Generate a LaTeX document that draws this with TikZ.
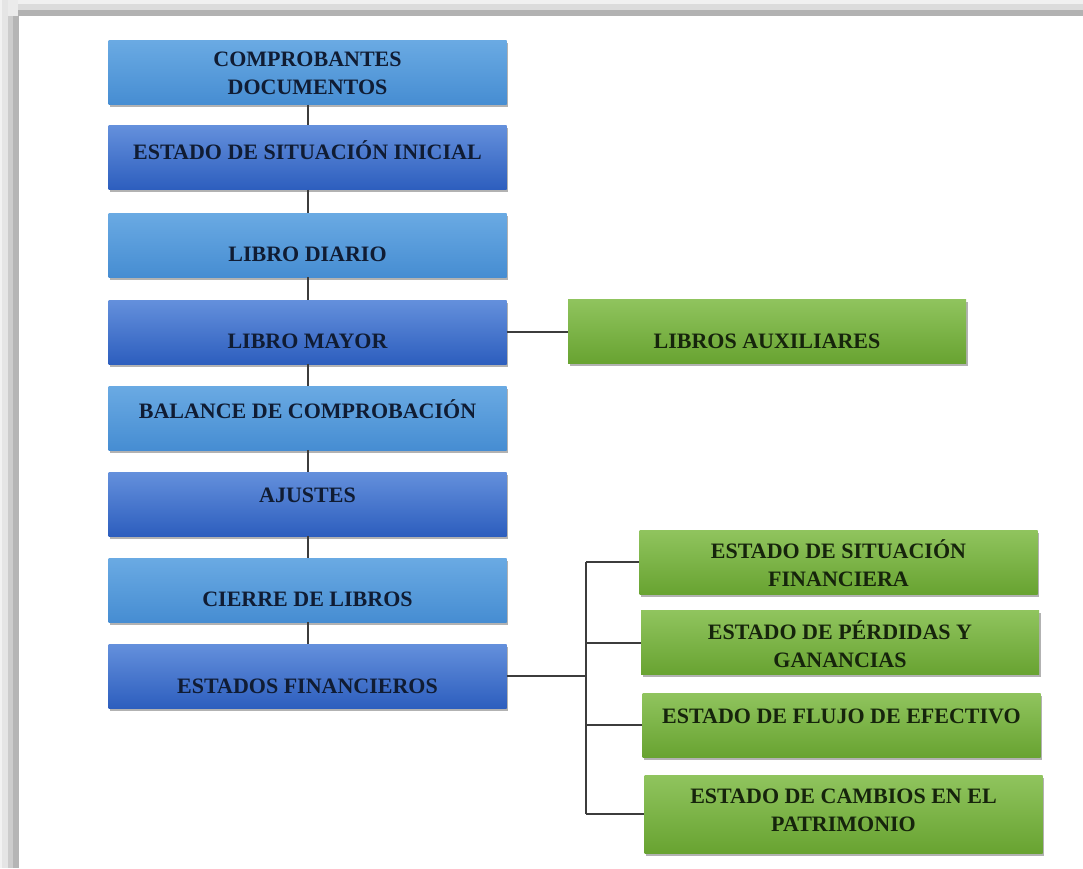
\documentclass[tikz,border=0pt]{standalone}
\usepackage{fontspec}
\setmainfont{Liberation Serif}
\usetikzlibrary{shadows}
\definecolor{lbT}{HTML}{6AAAE3}
\definecolor{lbB}{HTML}{468DD2}
\definecolor{dbT}{HTML}{6490DC}
\definecolor{dbB}{HTML}{2D5EBE}
\definecolor{gT}{HTML}{90C45E}
\definecolor{gB}{HTML}{68A331}
\definecolor{navy}{HTML}{101C33}
\definecolor{dgreen}{HTML}{16240C}
\definecolor{lineC}{HTML}{3C3C3C}
\tikzset{
  box/.style={rectangle, minimum width=398pt, minimum height=64pt, inner sep=0pt,
    drop shadow={shadow xshift=1.5pt, shadow yshift=-2.5pt, fill=black, opacity=0.3}},
  lblue/.style={box, top color=lbT, bottom color=lbB},
  dblue/.style={box, top color=dbT, bottom color=dbB},
  gbox/.style={box, top color=gT, bottom color=gB},
  txt/.style={font=\fontsize{22}{28}\selectfont\bfseries, align=center, text=navy, inner sep=0pt},
  gtxt/.style={txt, text=dgreen},
  conn/.style={draw=lineC, line width=2pt}
}
\begin{document}
\begin{tikzpicture}[x=1pt,y=-1pt]
\useasboundingbox (0,0) rectangle (1083,868);
\fill[white] (0,0) rectangle (1083,868);
% frame
\fill[black!6] (18,0) rectangle (1083,4);
\fill[black!14] (18,4) rectangle (1083,10);
\fill[black!30] (18,10) rectangle (1083,16);
\fill[black!5] (0,0) rectangle (2,868);
\fill[black!10] (2,0) rectangle (8,868);
\fill[black!20] (8,16) rectangle (13,868);
\fill[black!29] (13,16) rectangle (19,868);
\fill[black!8] (8,0) rectangle (18,16);

% left column
\node[lblue] (b1) at (307.5,72.5) {};
\node[txt] (t1) at (307.5,73) {COMPROBANTES\\DOCUMENTOS};
\node[dblue] (b2) at (307.5,157.5) {};
\node[txt] (t2) at (307.5,150) {ESTADO DE SITUACIÓN INICIAL};
\node[lblue] (b3) at (307.5,245) {};
\node[txt] (t3) at (307.5,254) {LIBRO DIARIO};
\node[dblue] (b4) at (307.5,332) {};
\node[txt] (t4) at (307.5,341) {LIBRO MAYOR};
\node[lblue] (b5) at (307.5,418) {};
\node[txt] (t5) at (307.5,409) {BALANCE DE COMPROBACIÓN};
\node[dblue] (b6) at (307.5,504) {};
\node[txt] (t6) at (307.5,495) {AJUSTES};
\node[lblue] (b7) at (307.5,590) {};
\node[txt] (t7) at (307.5,599) {CIERRE DE LIBROS};
\node[dblue] (b8) at (307.5,676) {};
\node[txt] (t8) at (307.5,686) {ESTADOS FINANCIEROS};

% green boxes
\node[gbox] (ga) at (767,331) {};
\node[gtxt] (tga) at (767,341) {LIBROS AUXILIARES};
\node[gbox] (g1) at (838.5,562) {};
\node[gtxt] (tg1) at (838.5,563) {ESTADO DE SITUACIÓN\\FINANCIERA};
\node[gbox] (g2) at (840,642.5) {};
\node[gtxt] (tg2) at (840,644) {ESTADO DE PÉRDIDAS Y\\GANANCIAS};
\node[gbox] (g3) at (841.5,725) {};
\node[gtxt] (tg3) at (841.5,716) {ESTADO DE FLUJO DE EFECTIVO};
\node[gbox, minimum height=78pt] (g4) at (843.5,814) {};
\node[gtxt] (tg4) at (843.5,810.5) {ESTADO DE CAMBIOS EN EL\\PATRIMONIO};

% connectors
\foreach \a/\b in {b1/b2,b2/b3,b3/b4,b4/b5,b5/b6,b6/b7,b7/b8}
  \draw[conn] (\a.south) -- (\b.north);
\draw[conn] (b4.east) -- (b4.east -| ga.west);
\coordinate (sp) at (586,676);
\draw[conn] (b8.east) -- (sp);
\draw[conn] (sp |- g1.west) -- (sp |- g4.west);
\foreach \g in {g1,g2,g3,g4}
  \draw[conn] (sp |- \g.west) -- (\g.west);
\end{tikzpicture}
\end{document}
